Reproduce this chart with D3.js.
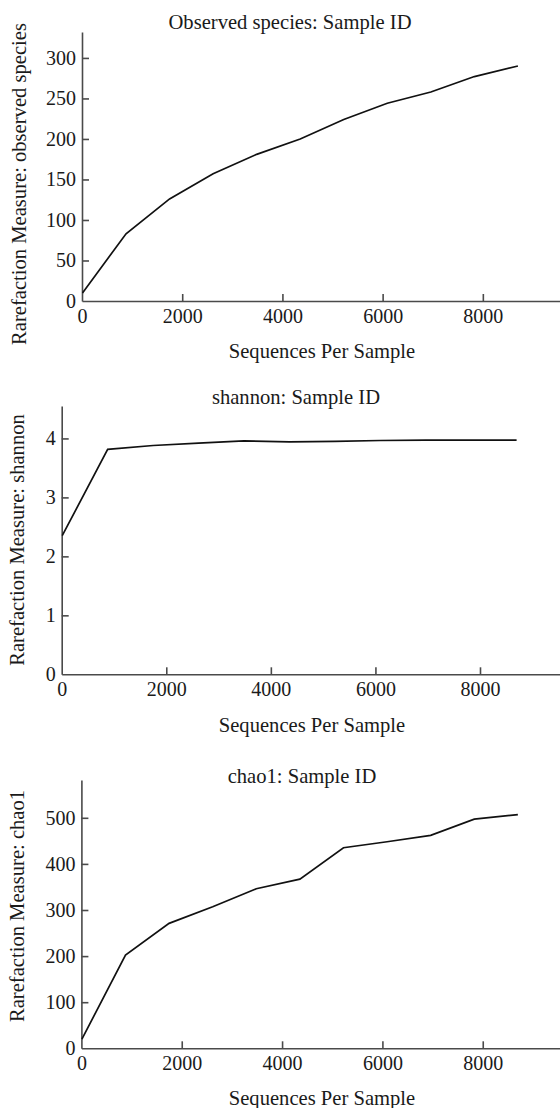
<!DOCTYPE html>
<html lang="en">
<head>
<meta charset="UTF-8">
<title>Rarefaction curves</title>
<style>
    body {
        margin: 0;
        background: #fff;
    }
    svg text {
        font-family: "Liberation Serif", "Times New Roman", serif;
        fill: #1a1a1a;
    }
    .axis path,
    .axis line {
        stroke: #4a4a4a;
        stroke-width: 1.6px;
    }
    .axis text {
        font-size: 20px;
    }
    .curve {
        fill: none;
        stroke: #111;
        stroke-width: 1.7px;
    }
    .title, .xlabel, .ylabel {
        font-size: 20.6px;
    }
</style>
</head>
<body>
<div id="chart"></div>
<script src="https://cdn.jsdelivr.net/npm/d3@7"></script>
<script>

    // sequences per sample at each rarefaction depth
    var depths = [10, 879, 1748, 2617, 3486, 4355, 5224, 6093, 6962, 7831, 8700]

    var observedSpecies = [10, 83, 126, 157, 181, 200, 224, 244, 258, 277, 290]
    var shannon = [2.35, 3.815, 3.88, 3.92, 3.96, 3.94, 3.95, 3.965, 3.97, 3.97, 3.97]
    var chao1 = [20, 202, 271, 307, 346, 367, 435, 448, 462, 497, 507]

    var xTicks = [0, 2000, 4000, 6000, 8000]
    var observedTicks = [0, 50, 100, 150, 200, 250, 300]
    var shannonTicks = [0, 1, 2, 3, 4]
    var chao1Ticks = [0, 100, 200, 300, 400, 500]

    var width = 560, height = 1108

    // layout for each of the three stacked plots
    var panels = [
        {name: "Observed species", label: "observed species", values: observedSpecies, yTicks: observedTicks,
            left: 82, bottom: 301, top: 32, xMax: 9540, yMax: 332,
            titleX: 290, titleY: 29, xLabelX: 322, xLabelY: 358, yLabelX: 26, yLabelY: 184},
        {name: "shannon", label: "shannon", values: shannon, yTicks: shannonTicks,
            left: 61.7, bottom: 674.3, top: 406, xMax: 9530, yMax: 4.55,
            titleX: 296, titleY: 404, xLabelX: 312, xLabelY: 732, yLabelX: 24, yLabelY: 540},
        {name: "chao1", label: "chao1", values: chao1, yTicks: chao1Ticks,
            left: 81.4, bottom: 1048.3, top: 780, xMax: 9540, yMax: 582,
            titleX: 302, titleY: 783, xLabelX: 322, xLabelY: 1105, yLabelX: 24, yLabelY: 906}
    ]

    var svg = d3.select("#chart").append("svg")
        .attr("width", width)
        .attr("height", height)

    panels.forEach(function (p) {
        var x = d3.scaleLinear().domain([0, p.xMax]).range([p.left, width])
        var y = d3.scaleLinear().domain([0, p.yMax]).range([p.bottom, p.top])

        var g = svg.append("g")

        g.append("g")
            .attr("class", "axis")
            .attr("transform", "translate(0," + p.bottom + ")")
            .call(d3.axisBottom(x).tickValues(xTicks).tickSizeInner(-7).tickSizeOuter(0).tickPadding(8)
                .tickFormat(d3.format("d")))

        g.append("g")
            .attr("class", "axis")
            .attr("transform", "translate(" + p.left + ",0)")
            .call(d3.axisLeft(y).tickValues(p.yTicks).tickSizeInner(-7).tickSizeOuter(0).tickPadding(6)
                .tickFormat(d3.format("d")))

        // drop the tick mark at the origin, the axes meet there
        g.selectAll(".axis .tick").filter(function (d) { return d === 0 })
            .select("line").remove()

        var line = d3.line()
            .x(function (d, i) { return x(depths[i]) })
            .y(function (d) { return y(d) })

        g.append("path")
            .datum(p.values)
            .attr("class", "curve")
            .attr("d", line)

        g.append("text")
            .attr("class", "title")
            .attr("x", p.titleX)
            .attr("y", p.titleY)
            .attr("text-anchor", "middle")
            .text(p.name + ": Sample ID")

        g.append("text")
            .attr("class", "xlabel")
            .attr("x", p.xLabelX)
            .attr("y", p.xLabelY)
            .attr("text-anchor", "middle")
            .text("Sequences Per Sample")

        g.append("text")
            .attr("class", "ylabel")
            .attr("transform", "translate(" + p.yLabelX + "," + p.yLabelY + ") rotate(-90)")
            .attr("text-anchor", "middle")
            .text("Rarefaction Measure: " + p.label)
    })

</script>
</body>
</html>
